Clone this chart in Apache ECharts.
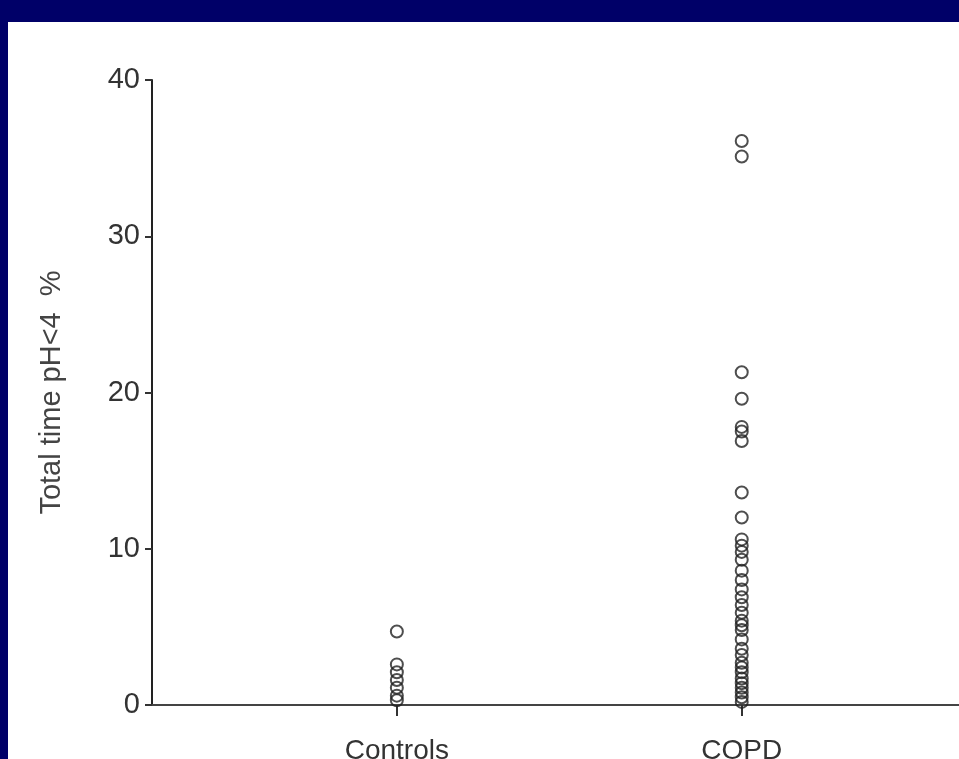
<!DOCTYPE html>
<html>
<head>
<meta charset="utf-8">
<script src="https://cdn.jsdelivr.net/npm/echarts@6/dist/echarts.min.js"></script>
<style>
  html, body { margin: 0; padding: 0; background: #000068; width: 959px; height: 759px; overflow: hidden; }
  #main { position: absolute; left: 8px; top: 22px; width: 951px; height: 737px; background: #ffffff; }
</style>
</head>
<body>
<div id="main"></div>
<script>
var groups = ['Controls', 'COPD'];
var yTicks = [0, 10, 20, 30, 40];

var controlsValues = [4.7, 2.6, 2.1, 1.6, 1.1, 0.6, 0.3];
var copdValues = [36.1, 35.1, 21.3, 19.6, 17.8, 17.5, 16.9, 13.6, 12.0,
    10.6, 10.2, 9.8, 9.3, 8.6, 8.0, 7.4, 6.9, 6.4, 5.9, 5.4, 5.1, 4.8,
    4.2, 3.6, 3.2, 2.7, 2.4, 2.1, 1.7, 1.4, 1.1, 0.8, 0.5, 0.2];

function toPoints(pos, values) {
    return values.map(function (v) { return [pos, v]; });
}

var myChart = echarts.init(document.getElementById('main'));

var option = {
    backgroundColor: '#ffffff',
    animation: false,
    grid: { left: 144, top: 58, right: 0, bottom: 54, containLabel: false, outerBoundsMode: 'none' },
    xAxis: {
        type: 'value',
        min: 0.29,
        max: 2.63,
        splitLine: { show: false },
        axisLine: { lineStyle: { color: '#444', width: 2 } },
        axisTick: { customValues: [1, 2], length: 11, lineStyle: { color: '#333', width: 2 } },
        axisLabel: {
            customValues: [1, 2],
            formatter: function (v) { return groups[Math.round(v) - 1]; },
            color: '#333',
            fontFamily: 'Liberation Sans',
            fontSize: 28,
            margin: 32
        }
    },
    yAxis: {
        type: 'value',
        min: 0,
        max: 40,
        interval: 10,
        name: 'Total time pH<4  %',
        nameLocation: 'middle',
        nameGap: 86,
        nameTextStyle: { color: '#444', fontFamily: 'Liberation Sans', fontSize: 29 },
        splitLine: { show: false },
        axisLine: { show: true, lineStyle: { color: '#222', width: 2 } },
        axisTick: { show: true, length: 7, lineStyle: { color: '#333', width: 2 } },
        axisLabel: {
            formatter: function (v) { return yTicks.indexOf(v) >= 0 ? String(v) : ''; },
            color: '#333',
            fontFamily: 'Liberation Sans',
            fontSize: 29,
            margin: 12
        }
    },
    series: [
        {
            name: 'Controls',
            type: 'scatter',
            symbol: 'circle',
            symbolSize: 12,
            itemStyle: { color: 'rgba(255,255,255,0)', borderColor: '#222', borderWidth: 2 },
            data: toPoints(1, controlsValues)
        },
        {
            name: 'COPD',
            type: 'scatter',
            symbol: 'circle',
            symbolSize: 12,
            itemStyle: { color: 'rgba(255,255,255,0)', borderColor: '#222', borderWidth: 2 },
            data: toPoints(2, copdValues)
        }
    ]
};

myChart.setOption(option);
</script>
</body>
</html>
